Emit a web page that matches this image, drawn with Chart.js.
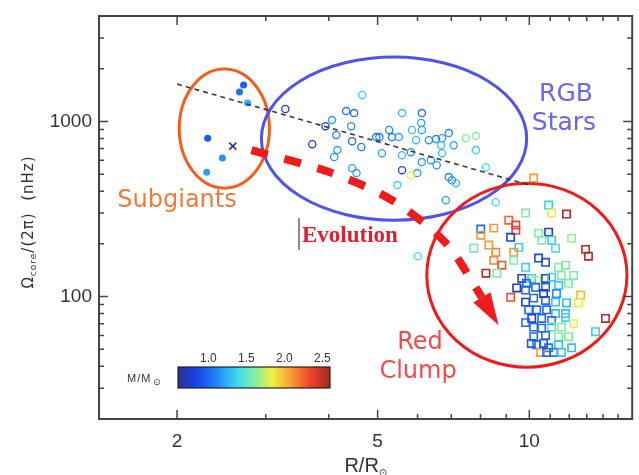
<!DOCTYPE html>
<html>
<head>
<meta charset="utf-8">
<script src="https://cdn.jsdelivr.net/npm/chart.js@4.4.1/dist/chart.umd.min.js"></script>
<style>
  html, body { margin: 0; padding: 0; background: #fff; }
  canvas { display: block; }
</style>
</head>
<body>
<canvas id="chart" width="639" height="475"></canvas>
<script>
// --- 1. DATA ---
const X_TICKS = [2, 5, 10];
const Y_TICKS = [100, 1000];
const X_MINOR = [2, 3, 4, 5, 6, 7, 8, 9, 10, 11, 12, 13, 14, 15];
const Y_MINOR = [20, 30, 40, 50, 60, 70, 80, 90, 100, 200, 300, 400, 500, 600, 700, 800, 900, 1000, 2000, 3000];

// subgiants (filled dots) + one cross
const subR = [2.71, 2.66, 2.76, 2.30, 2.46, 2.29];
const subOmega = [1613, 1472, 1273, 803, 618, 513];
const subMass = [0.95, 1.05, 1.25, 0.95, 1.15, 1.2];
const crossR = [2.58];
const crossOmega = [723];

// RGB stars (open circles)
const rgbR = [3.28, 4.66, 4.33, 4.49, 4.06, 3.94, 4.14, 4.43, 3.71, 4.45, 4.64, 4.16, 4.10, 4.45, 4.54, 5.10, 4.97, 5.04,
  5.27, 5.34, 5.51, 5.59, 6.12, 6.10, 6.12, 5.85, 5.96, 6.32, 6.53, 6.71, 6.92, 7.08, 6.68, 5.82, 5.59, 6.12, 6.38, 6.55,
  6.71, 5.59, 5.99, 5.82, 6.92, 7.02, 7.15, 5.47, 6.83, 7.48, 7.83, 7.83, 8.20, 8.58, 6.01];
const rgbOmega = [1178, 1415, 1146, 1116, 1018, 940, 836, 940, 742, 772, 714, 686, 626, 541, 507, 659, 814, 814,
  893, 814, 814, 1116, 1116, 979, 893, 893, 782, 782, 793, 803, 858, 732, 732, 668, 642, 586, 601, 563,
  659, 527, 507, 494, 481, 462, 444, 433, 355, 803, 825, 686, 548, 346, 170];
const rgbMass = [0.75, 1.35, 1.05, 1.0, 1.2, 0.85, 1.1, 1.15, 0.8, 1.05, 1.05, 1.2, 1.15, 1.2, 1.2, 1.2, 1.05, 1.05,
  1.1, 1.05, 1.2, 1.3, 1.05, 1.2, 1.2, 1.3, 1.3, 1.15, 1.1, 1.2, 1.1, 1.2, 1.3, 1.15, 1.3, 1.2, 1.2, 1.2,
  1.3, 0.85, 1.2, 1.8, 1.1, 1.15, 1.3, 1.35, 1.2, 1.6, 1.6, 1.35, 1.4, 1.4, 1.4];

// red clump (open squares)
const clumpR = [10.20, 10.92, 11.07, 11.85, 9.83, 9.10, 9.40, 9.40, 8.50, 8.01, 8.01, 9.18, 10.43, 10.92, 10.58, 11.07,
  12.13, 7.76, 8.31, 8.58, 9.53, 9.31, 11.27, 12.93, 13.10, 8.50, 8.82, 9.31, 10.43, 10.77, 11.43, 11.80, 8.20, 8.62,
  9.83, 9.66, 10.11, 10.34, 10.77, 11.07, 11.58, 12.24, 9.44, 9.83, 10.29, 10.77, 11.43, 11.96, 12.64, 9.18, 9.83,
  10.20, 10.77, 11.27, 11.85, 12.52, 9.97, 10.34, 10.82, 11.27, 11.80, 10.11, 10.58, 11.07, 11.80, 12.24, 14.16, 13.53,
  10.20, 10.58, 11.07, 11.58, 10.20, 10.77, 11.43, 11.96, 10.34, 10.92, 11.43, 10.53, 10.82, 11.17, 11.58, 12.13,
  9.87, 10.67, 9.83, 10.67, 11.32, 10.09];
const clumpOmega = [475, 333, 300, 296, 300, 273, 256, 239, 246, 243, 224, 218, 230, 233, 210, 210,
  215, 189, 197, 179, 191, 179, 189, 186, 170, 161, 151, 161, 166, 157, 147, 151, 136, 136,
  147, 127, 127, 124, 127, 129, 132, 132, 112, 109, 113, 113, 116, 119, 102, 99, 93,
  98, 95, 93, 92, 92, 84, 84, 84, 80, 80, 75, 75, 73, 76, 70, 75, 63,
  67, 66, 67, 67, 59, 60, 59, 59, 53, 51, 53, 48, 48, 48, 48, 51,
  119, 104, 71, 54, 104, 54];
const clumpMass = [2.1, 1.35, 1.85, 2.55, 1.6, 2.25, 2.35, 2.35, 2.1, 1.0, 2.1, 0.85, 1.6, 0.85, 1.6, 1.35,
  1.65, 1.55, 2.1, 2.15, 1.35, 2.1, 1.45, 2.55, 2.55, 2.15, 2.3, 1.6, 0.85, 0.9, 1.6, 1.6, 2.55, 1.6,
  1.35, 0.85, 1.35, 1.7, 0.85, 1.35, 1.6, 1.6, 0.75, 1.0, 1.0, 1.0, 1.3, 1.6, 2.0, 2.3, 0.75,
  1.0, 1.0, 1.3, 1.3, 1.85, 1.0, 1.0, 1.0, 1.3, 1.3, 0.8, 1.0, 1.05, 1.35, 1.85, 2.55, 1.35,
  1.0, 1.0, 1.45, 1.6, 1.0, 1.0, 1.6, 1.6, 1.05, 1.05, 1.3, 2.1, 1.0, 1.05, 1.3, 1.3,
  1.0, 0.8, 1.0, 0.95, 1.15, 0.95];

// black dashed trend line
const fitR = [2.0, 10.0];
const fitOmega = [1635, 433];

// red "Evolution" arrow (path, then tip)
const arrowR = [2.81, 4.01, 5.34, 6.83, 8.05];
const arrowOmega = [686, 514, 355, 202, 99];
const arrowTipR = 8.69;
const arrowTipOmega = 68.6;

// group ellipses, bounds in data units
const ellipseRMin = [2.02, 2.94, 6.26];
const ellipseRMax = [3.05, 9.88, 15.62];
const ellipseOmegaMin = [416, 273, 39.5];
const ellipseOmegaMax = [1991, 2332, 444];
const ellipseColors = ['#f0601c', '#5252e6', '#f01a1a'];

// colour bar (M / M_sun)
const MASS_MIN = 0.6;
const MASS_MAX = 2.6;
const MASS_TICKS = [1.0, 1.5, 2.0, 2.5];
const CMAP = [
  [0.00, [44, 48, 150]],
  [0.12, [26, 64, 226]],
  [0.25, [30, 130, 248]],
  [0.40, [64, 222, 240]],
  [0.52, [146, 238, 150]],
  [0.62, [240, 240, 64]],
  [0.74, [248, 160, 48]],
  [0.87, [240, 66, 48]],
  [1.00, [160, 40, 32]]
];

// --- 2. HELPERS ---
function massColor(m) {
  const t = Math.min(1, Math.max(0, (m - MASS_MIN) / (MASS_MAX - MASS_MIN)));
  for (let i = 1; i < CMAP.length; i++) {
    if (t <= CMAP[i][0]) {
      const [t0, c0] = CMAP[i - 1];
      const [t1, c1] = CMAP[i];
      const f = (t - t0) / (t1 - t0);
      return 'rgb(' + c0.map((v, k) => Math.round(v + (c1[k] - v) * f)).join(',') + ')';
    }
  }
  return 'rgb(' + CMAP[CMAP.length - 1][1].join(',') + ')';
}

const pts = (xs, ys) => xs.map((v, i) => ({ x: v, y: ys[i] }));

// --- 3. PLUGINS ---
const ellipsePlugin = {
  id: 'ellipses',
  beforeDatasetsDraw(chart) {
    const { ctx, scales: { x, y } } = chart;
    ctx.save();
    ellipseRMin.forEach((_, i) => {
      const x0 = x.getPixelForValue(ellipseRMin[i]);
      const x1 = x.getPixelForValue(ellipseRMax[i]);
      const y0 = y.getPixelForValue(ellipseOmegaMax[i]);
      const y1 = y.getPixelForValue(ellipseOmegaMin[i]);
      ctx.beginPath();
      ctx.ellipse((x0 + x1) / 2, (y0 + y1) / 2, (x1 - x0) / 2, (y1 - y0) / 2, 0, 0, Math.PI * 2);
      ctx.strokeStyle = ellipseColors[i];
      ctx.lineWidth = 3;
      ctx.stroke();
    });
    ctx.restore();
  }
};

const labelPlugin = {
  id: 'labels',
  afterDatasetsDraw(chart) {
    const { ctx, scales: { x, y } } = chart;
    ctx.save();

    // arrow head
    const bx = x.getPixelForValue(arrowR[arrowR.length - 1]);
    const by = y.getPixelForValue(arrowOmega[arrowOmega.length - 1]);
    const tx = x.getPixelForValue(arrowTipR);
    const ty = y.getPixelForValue(arrowTipOmega);
    const ang = Math.atan2(ty - by, tx - bx);
    const hw = 10;
    ctx.beginPath();
    ctx.moveTo(tx, ty);
    ctx.lineTo(bx + Math.sin(ang) * hw, by - Math.cos(ang) * hw);
    ctx.lineTo(bx - Math.sin(ang) * hw, by + Math.cos(ang) * hw);
    ctx.closePath();
    ctx.fillStyle = '#f01c1c';
    ctx.fill();

    ctx.textBaseline = 'alphabetic';
    ctx.textAlign = 'center';
    ctx.font = '24px "DejaVu Sans"';
    ctx.fillStyle = '#f07a3a';
    ctx.fillText('Subgiants', 177, 207);
    ctx.font = '25px "DejaVu Sans"';
    ctx.fillStyle = '#6c66e4';
    ctx.fillText('RGB', 566, 101);
    ctx.fillText('Stars', 564, 130);
    ctx.font = '24px "DejaVu Sans"';
    ctx.fillStyle = '#f24a4a';
    ctx.fillText('Red', 420, 349);
    ctx.fillText('Clump', 418, 378);

    // Evolution label with small bar
    ctx.fillStyle = '#8a8a8a';
    ctx.fillRect(298, 218, 2, 32);
    ctx.textAlign = 'left';
    ctx.font = 'bold 23px "Liberation Serif"';
    ctx.fillStyle = '#e0202e';
    ctx.fillText('Evolution', 302, 242);

    // colour bar
    const cx0 = 178, cx1 = 330, cy0 = 367, cy1 = 388;
    const grad = ctx.createLinearGradient(cx0, 0, cx1, 0);
    CMAP.forEach(([t, c]) => grad.addColorStop(t, 'rgb(' + c.join(',') + ')'));
    ctx.fillStyle = grad;
    ctx.fillRect(cx0, cy0, cx1 - cx0, cy1 - cy0);
    ctx.strokeStyle = '#222';
    ctx.lineWidth = 1.2;
    ctx.strokeRect(cx0, cy0, cx1 - cx0, cy1 - cy0);
    ctx.fillStyle = '#333';
    ctx.font = '12px "Liberation Sans"';
    ctx.textAlign = 'center';
    MASS_TICKS.forEach(m => {
      const px = cx0 + (m - MASS_MIN) / (MASS_MAX - MASS_MIN) * (cx1 - cx0);
      ctx.fillText(m.toFixed(1), px, 362);
    });
    ctx.font = '11px "Liberation Sans"';
    ctx.textAlign = 'left';
    ctx.letterSpacing = '1px';
    ctx.fillText('M/M', 127, 382);
    ctx.letterSpacing = '0px';
    ctx.font = '9px "DejaVu Sans"';
    ctx.fillText('\u2299', 153, 385);

    ctx.restore();
  }
};

const framePlugin = {
  id: 'frame',
  afterDraw(chart) {
    const { ctx, chartArea: a, scales: { x, y } } = chart;
    ctx.save();
    ctx.strokeStyle = '#444';
    ctx.lineWidth = 2;
    ctx.strokeRect(a.left, a.top, a.right - a.left, a.bottom - a.top);
    ctx.lineWidth = 1.5;
    ctx.beginPath();
    X_MINOR.forEach(v => {
      const px = x.getPixelForValue(v);
      const len = X_TICKS.includes(v) ? 9 : 5;
      ctx.moveTo(px, a.bottom); ctx.lineTo(px, a.bottom - len);
      ctx.moveTo(px, a.top); ctx.lineTo(px, a.top + len);
    });
    Y_MINOR.forEach(v => {
      const py = y.getPixelForValue(v);
      const len = Y_TICKS.includes(v) ? 9 : 5;
      ctx.moveTo(a.left, py); ctx.lineTo(a.left + len, py);
      ctx.moveTo(a.right, py); ctx.lineTo(a.right - len, py);
    });
    ctx.stroke();

    // axis titles
    ctx.fillStyle = '#333';
    ctx.textBaseline = 'alphabetic';
    ctx.textAlign = 'left';
    ctx.font = '20px "Liberation Sans"';
    const w1 = ctx.measureText('R/R').width;
    const xt = (a.left + a.right) / 2 - (w1 + 8) / 2;
    ctx.fillText('R/R', xt, 472);
    ctx.font = '10px "DejaVu Sans"';
    ctx.fillText('\u2299', xt + w1, 476);

    ctx.translate(33, 222);
    ctx.rotate(-Math.PI / 2);
    const parts = [
      ['\u03A9', '15px "DejaVu Sans"', 0],
      ['core', '9px "DejaVu Sans"', 3],
      ['/(2\u03C0)  (nHz)', '15px "DejaVu Sans"', 0]
    ];
    ctx.letterSpacing = '1px';
    let total = 0;
    parts.forEach(p => { ctx.font = p[1]; total += ctx.measureText(p[0]).width; });
    let cur = -total / 2;
    parts.forEach(p => {
      ctx.font = p[1];
      ctx.fillText(p[0], cur, p[2]);
      cur += ctx.measureText(p[0]).width;
    });
    ctx.restore();
  }
};

// --- 4. CHART ---
new Chart(document.getElementById('chart'), {
  type: 'scatter',
  data: {
    datasets: [
      {
        label: 'trend',
        data: pts(fitR, fitOmega),
        showLine: true,
        borderColor: '#3a3a3a',
        borderWidth: 1.6,
        borderDash: [5, 4],
        pointRadius: 0
      },
      {
        label: 'RGB',
        data: pts(rgbR, rgbOmega),
        pointStyle: 'circle',
        pointRadius: 3.6,
        pointBorderWidth: 1.3,
        pointBackgroundColor: 'rgba(0,0,0,0)',
        pointBorderColor: rgbMass.map(massColor)
      },
      {
        label: 'Clump',
        data: pts(clumpR, clumpOmega),
        pointStyle: 'rect',
        pointRadius: 5.2,
        pointBorderWidth: 1.6,
        pointBackgroundColor: 'rgba(0,0,0,0)',
        pointBorderColor: clumpMass.map(massColor)
      },
      {
        label: 'Subgiants',
        data: pts(subR, subOmega),
        pointStyle: 'circle',
        pointRadius: 3.5,
        pointBorderWidth: 0,
        pointBackgroundColor: subMass.map(massColor)
      },
      {
        label: 'cross',
        data: pts(crossR, crossOmega),
        pointStyle: 'crossRot',
        pointRadius: 5,
        pointBorderWidth: 1.6,
        pointBorderColor: '#283090'
      },
      {
        label: 'Evolution',
        data: pts(arrowR, arrowOmega),
        showLine: true,
        tension: 0.3,
        borderColor: '#f01c1c',
        borderWidth: 8,
        borderDash: [17, 17],
        borderCapStyle: 'butt',
        pointRadius: 0
      }
    ]
  },
  options: {
    responsive: false,
    animation: false,
    events: [],
    layout: { padding: { top: 16, right: 5, left: 0, bottom: 0 } },
    plugins: { legend: { display: false }, tooltip: { enabled: false } },
    scales: {
      x: {
        type: 'logarithmic',
        min: 1.4,
        max: 16,
        grid: { display: false, drawTicks: false },
        border: { display: false },
        afterBuildTicks: s => { s.ticks = X_TICKS.map(v => ({ value: v })); },
        afterFit: s => { s.height = 56; s.paddingLeft = 0; s.paddingRight = 0; },
        ticks: {
          autoSkip: false,
          maxRotation: 0,
          padding: 11,
          color: '#333',
          font: { family: '"Liberation Sans"', size: 19 },
          callback: v => String(v)
        }
      },
      y: {
        type: 'logarithmic',
        min: 20,
        max: 4000,
        grid: { display: false, drawTicks: false },
        border: { display: false },
        afterBuildTicks: s => { s.ticks = Y_TICKS.map(v => ({ value: v })); },
        afterFit: s => { s.width = 99; s.paddingTop = 0; s.paddingBottom = 0; },
        ticks: {
          autoSkip: false,
          padding: 7,
          color: '#333',
          font: { family: '"Liberation Sans"', size: 19 },
          callback: v => String(v)
        }
      }
    }
  },
  plugins: [ellipsePlugin, labelPlugin, framePlugin]
});
</script>
</body>
</html>
